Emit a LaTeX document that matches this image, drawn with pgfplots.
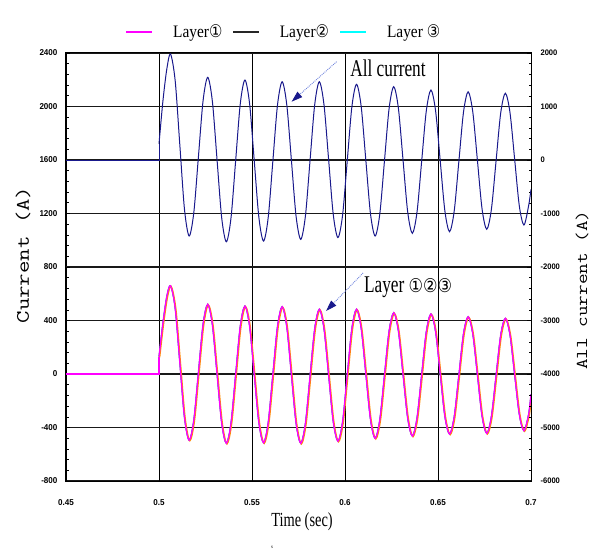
\documentclass[border=0pt]{standalone}
\usepackage{fontspec}
\setmainfont{Liberation Serif}
\newfontfamily\condserif[FakeStretch=0.72]{Liberation Serif}
\newfontfamily\legserif[FakeStretch=0.88]{Liberation Serif}
\newfontfamily\tickfont[FakeStretch=0.95]{Liberation Sans}
\newfontfamily\sym[FakeStretch=0.85]{DejaVu Sans}
\usepackage{graphicx}
\usepackage{pgfplots}
\usepackage{pgfplotstable}
\pgfplotsset{compat=1.18}
\usetikzlibrary{arrows.meta}
\definecolor{navyline}{RGB}{25,25,140}
\definecolor{arrowblue}{RGB}{110,130,220}
\definecolor{layerorange}{RGB}{255,140,0}
\definecolor{mag}{RGB}{255,0,255}
\definecolor{cyn}{RGB}{0,255,255}

\pgfplotstableread{
t v
0.45 0
0.5 0
0.5 130
}\layerflat

\pgfplotstableread{
t v
0.5 130
0.5021 380
0.5042 580
0.5062 660
0.5087 491
0.5112 83
0.5137 -326
0.5162 -495
0.5187 -346
0.5212 13
0.5237 372
0.5262 521
0.5287 369
0.5312 2
0.5337 -366
0.5362 -518
0.5387 -368
0.5412 -5
0.5437 358
0.5462 508
0.5487 358
0.5512 -3
0.5537 -364
0.5562 -514
0.5587 -365
0.5612 -6
0.5637 354
0.5662 503
0.5687 353
0.5712 -8
0.5737 -368
0.5762 -518
0.5787 -371
0.5812 -17
0.5837 337
0.5862 484
0.5887 340
0.5912 -9
0.5937 -358
0.5962 -502
0.5987 -358
0.6012 -9
0.6037 340
0.6062 484
0.6087 343
0.6112 2
0.6137 -340
0.6162 -481
0.6187 -343
0.6212 -12
0.6237 320
0.6262 458
0.6287 323
0.6312 -3
0.6337 -329
0.6362 -464
0.6387 -330
0.6412 -8
0.6437 315
0.6462 449
0.6487 317
0.6512 0
0.6537 -317
0.6562 -449
0.6587 -321
0.6612 -11
0.6637 300
0.6662 428
0.6687 300
0.6712 -8
0.6737 -316
0.6762 -444
0.6787 -318
0.6812 -14
0.6837 290
0.6862 416
0.6887 293
0.6912 -4
0.6937 -301
0.6962 -424
0.6987 -303
0.7 -150
}\layerdata

\pgfplotstableread{
t v
0.45 0
0.5 0
0.5 300
}\allflat

\pgfplotstableread{
t v
0.5 300
0.5021 1100
0.5042 1700
0.5062 1980
0.5087 1482
0.5112 280
0.5137 -922
0.5162 -1420
0.5187 -986
0.5212 63
0.5237 1111
0.5262 1545
0.5287 1095
0.5312 9
0.5337 -1078
0.5362 -1528
0.5387 -1086
0.5412 -17
0.5437 1052
0.5462 1495
0.5487 1054
0.5512 -10
0.5537 -1074
0.5562 -1515
0.5587 -1079
0.5612 -27
0.5637 1026
0.5662 1462
0.5687 1031
0.5712 -11
0.5737 -1052
0.5762 -1483
0.5787 -1052
0.5812 -11
0.5837 1031
0.5862 1462
0.5887 1035
0.5912 6
0.5937 -1023
0.5962 -1450
0.5987 -1031
0.6012 -18
0.6037 996
0.6062 1415
0.6087 1000
0.6112 -3
0.6137 -1005
0.6162 -1420
0.6187 -1011
0.6212 -25
0.6237 961
0.6262 1370
0.6287 969
0.6312 0
0.6337 -969
0.6362 -1370
0.6387 -978
0.6412 -31
0.6437 916
0.6462 1308
0.6487 920
0.6512 -16
0.6537 -952
0.6562 -1340
0.6587 -957
0.6612 -33
0.6637 892
0.6662 1275
0.6687 899
0.6712 -10
0.6737 -919
0.6762 -1295
0.6787 -923
0.6812 -24
0.6837 876
0.6862 1248
0.6887 888
0.6912 17
0.6937 -854
0.6962 -1215
0.6987 -858
0.7 -550
}\alldata

\begin{document}
\begin{tikzpicture}
\begin{axis}[
  scale only axis, width=465pt, height=428pt,
  xmin=0.45, xmax=0.7, ymin=-800, ymax=2400,
  xtick={0.45,0.5,0.55,0.6,0.65,0.7},
  xticklabels={0.45,0.5,0.55,0.6,0.65,0.7},
  ytick={-800,-400,...,2400},
  minor y tick num=4,
  ytick pos=left, xtick pos=bottom,
  tick align=inside,
  major tick length=4pt, minor tick length=2.5pt,
  /pgf/number format/1000 sep={},
  /pgf/number format/assume math mode=true,
  tick label style={font=\fontsize{8.5}{9}\tickfont\bfseries},
  yticklabel style={xshift=-5pt},
  xticklabel style={yshift=-15pt},
  grid=major,
  x grid style={black, line width=0.7pt},
  y grid style={black!90, line width=1.4pt},
  axis line style={black, line width=1pt},
  every tick/.style={black, line width=0.6pt},
  every axis y label/.style={at={(axis description cs:-0.0925,0.528)}, rotate=90, anchor=center},
  every axis x label/.style={at={(axis description cs:0.5075,-0.096)}, anchor=center},
  ylabel={\scalebox{1.27}[1]{\fontsize{19}{20}\ttfamily Current (A)}},
  xlabel={\fontsize{20}{21}\condserif Time (sec)},
  legend style={draw=none, fill=none, at={(axis description cs:0.468,1.049)}, anchor=center,
    font=\fontsize{17.5}{18}\legserif,
    /tikz/every odd column/.append style={column sep=18pt},
    /tikz/every even column/.append style={column sep=8pt}},
  legend columns=-1,
  legend image code/.code={\draw[#1] (0pt,0pt) -- (26pt,0pt);},
]
\addlegendimage{mag, line width=2pt}
\addlegendentry{Layer{\sym ①}}
\addlegendimage{black!85, line width=1.4pt}
\addlegendentry{Layer{\sym ②}}
\addlegendimage{cyn, line width=2pt}
\addlegendentry{Layer {\sym ③}}

\addplot[black, line width=0.9pt, forget plot] table[x=t,y=v] {\layerflat};
\addplot[black, line width=0.9pt, smooth, forget plot] table[x=t,y=v] {\layerdata};
\addplot[cyn, line width=0.9pt, forget plot] table[x=t,y=v] {\layerflat};
\addplot[cyn, line width=0.9pt, smooth, forget plot] table[x=t,y=v] {\layerdata};
\addplot[layerorange, line width=1.3pt, forget plot, xshift=0.7pt, yshift=-0.6pt] table[x=t,y=v] {\layerflat};
\addplot[layerorange, line width=1.3pt, smooth, forget plot, xshift=0.7pt, yshift=-0.6pt] table[x=t,y=v] {\layerdata};
\addplot[mag, line width=1.3pt, forget plot] table[x=t,y=v] {\layerflat};
\addplot[mag, line width=1.3pt, smooth, forget plot] table[x=t,y=v] {\layerdata};

\node[font=\fontsize{24}{25}\condserif] at (axis cs:0.6231,2288) {All current};
\draw[arrowblue, densely dotted, line width=0.9pt, -{Triangle[length=11pt,width=7pt,color=navyline]}]
  (axis cs:0.5955,2335) -- (axis cs:0.5713,2036);
\node[font=\fontsize{24}{25}\condserif] at (axis cs:0.6339,650) {Layer {\fontsize{19}{20}\sym ①②③}};
\draw[arrowblue, densely dotted, line width=0.9pt, -{Triangle[length=11pt,width=7pt,color=navyline]}]
  (axis cs:0.6097,755) -- (axis cs:0.5898,471);
\end{axis}

\begin{axis}[
  scale only axis, width=465pt, height=428pt,
  xmin=0.45, xmax=0.7, ymin=-6000, ymax=2000,
  axis x line=none, axis y line*=right,
  ytick={-6000,-5000,...,2000},
  minor y tick num=4,
  tick align=inside,
  major tick length=4pt, minor tick length=2.5pt,
  /pgf/number format/1000 sep={},
  /pgf/number format/assume math mode=true,
  tick label style={font=\fontsize{8}{9}\tickfont\bfseries},
  yticklabel style={xshift=6pt},
  axis line style={black, line width=1pt},
  every tick/.style={black, line width=0.6pt},
  every axis y label/.style={at={(axis description cs:1.11,0.446)}, rotate=90, anchor=center},
  ylabel={\scalebox{1.25}[1]{\fontsize{16.5}{17}\ttfamily All current (A)}},
]
\addplot[navyline, line width=1pt] table[x=t,y=v] {\allflat};
\addplot[navyline, line width=1pt, smooth] table[x=t,y=v] {\alldata};
\end{axis}
\node[font=\fontsize{5}{5}\selectfont] at (206pt,-66pt) {s};
\pgfresetboundingbox
\path[use as bounding box] (-66pt,-73pt) rectangle (525pt,481pt);
\end{tikzpicture}
\end{document}
